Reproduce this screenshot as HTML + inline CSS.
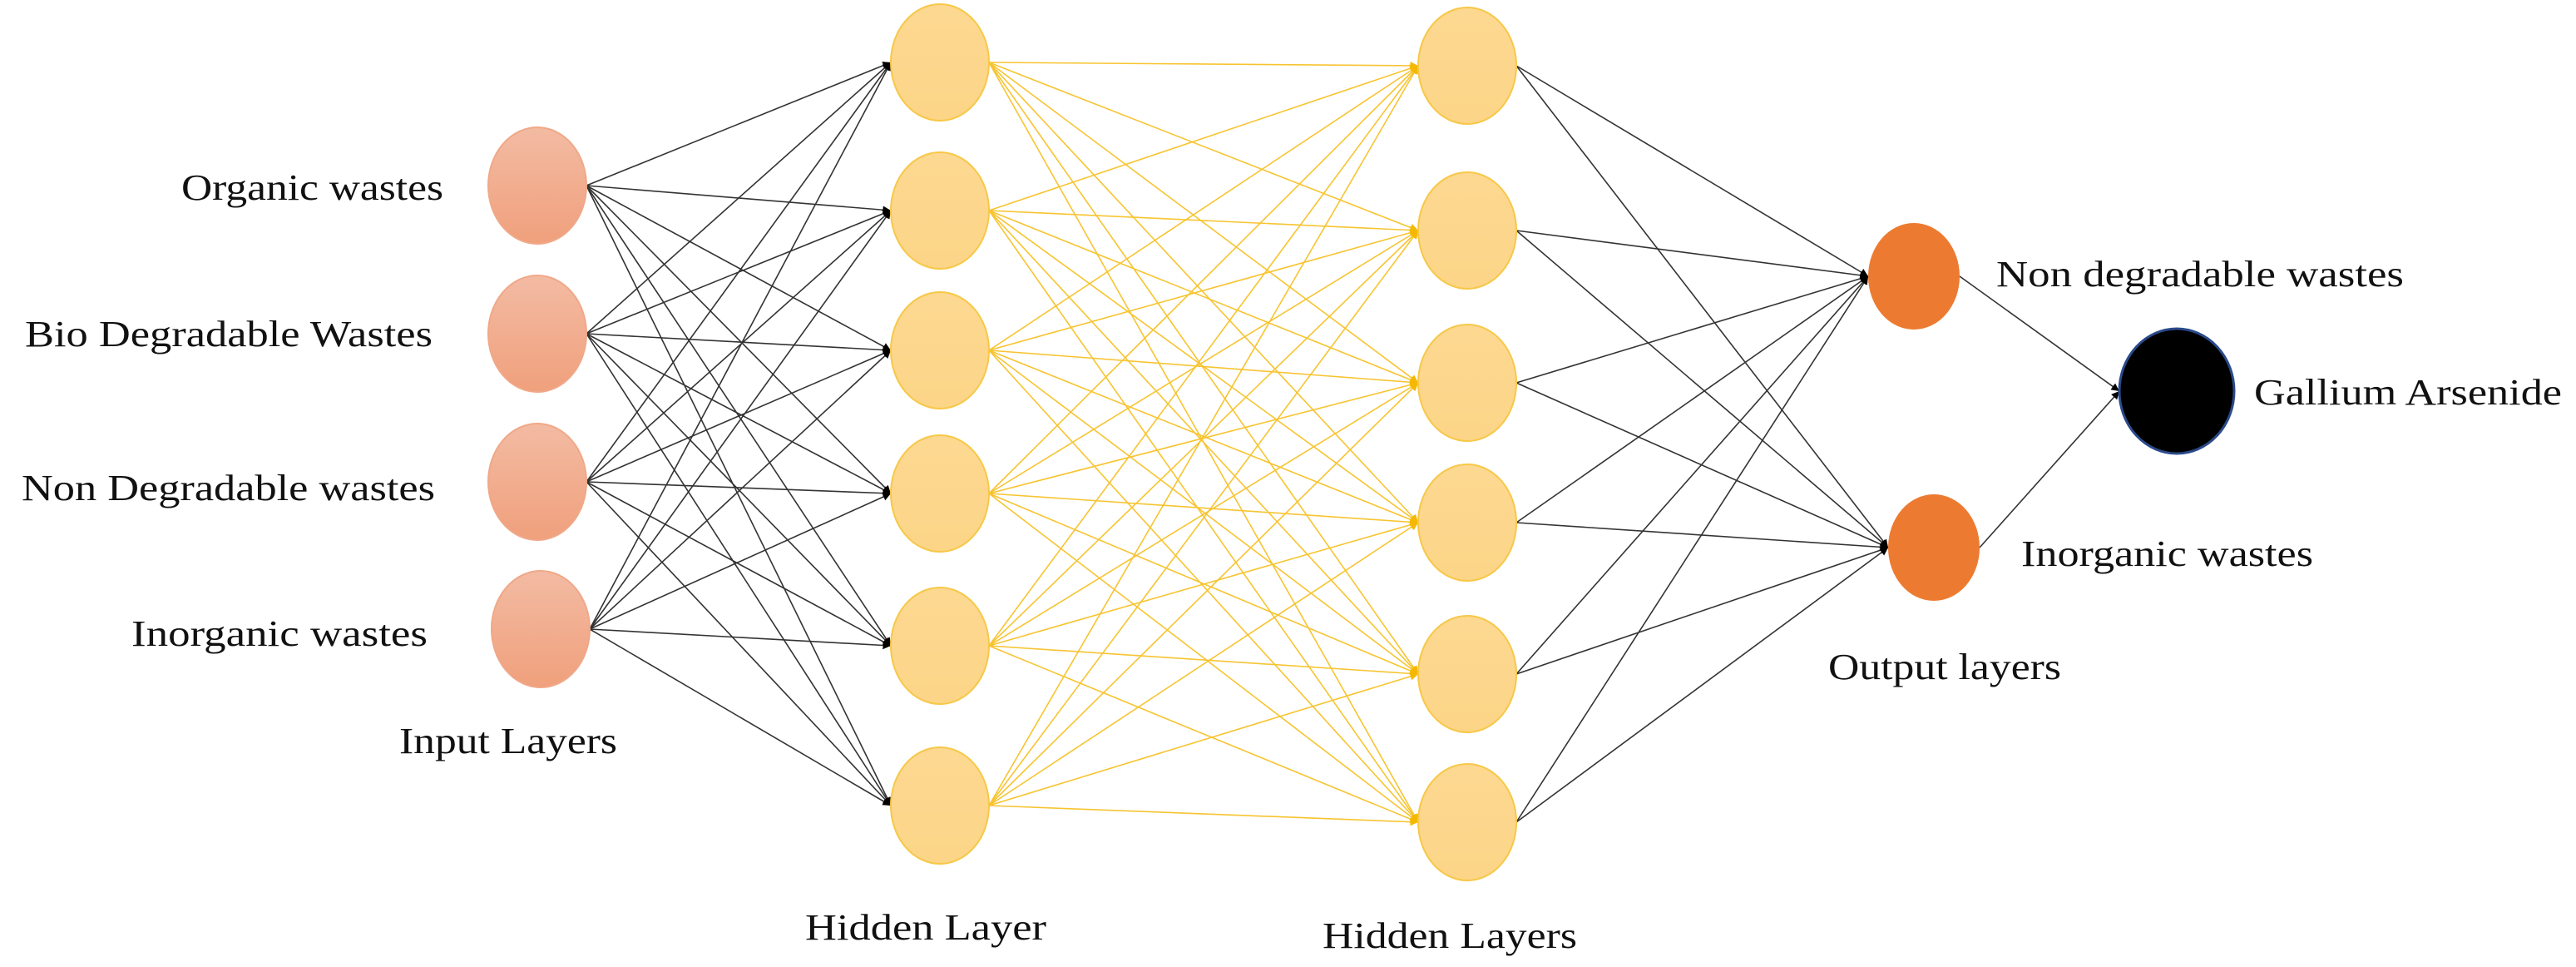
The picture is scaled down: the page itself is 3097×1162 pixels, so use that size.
<!DOCTYPE html>
<html><head><meta charset="utf-8"><style>
html,body{margin:0;padding:0;background:#fff;}
svg{display:block;}
text{font-family:"Liberation Serif",serif;font-size:44px;fill:#111;}
</style></head><body>
<svg width="3097" height="1162" viewBox="0 0 3097 1162" xmlns="http://www.w3.org/2000/svg">
<defs>
<marker id="ab" viewBox="0 0 10 10" refX="10" refY="5" markerWidth="6" markerHeight="6" orient="auto"><path d="M0,0L10,5L0,10z" fill="#000"/></marker>
<marker id="ay" viewBox="0 0 10 10" refX="10" refY="5" markerWidth="6" markerHeight="6" orient="auto"><path d="M0,0L10,5L0,10z" fill="#f5b800"/></marker>
<linearGradient id="gi" x1="0" y1="0" x2="0" y2="1"><stop offset="0" stop-color="#f3bba3"/><stop offset="1" stop-color="#f0a07c"/></linearGradient>
<linearGradient id="gh" x1="0" y1="0" x2="0" y2="1"><stop offset="0" stop-color="#fdd891"/><stop offset="1" stop-color="#fcd587"/></linearGradient>
</defs>
<g stroke="#333" stroke-width="1.6" marker-end="url(#ab)">
<line x1="705" y1="223" x2="1071" y2="75"/><line x1="705" y1="223" x2="1071" y2="253"/><line x1="705" y1="223" x2="1071" y2="421"/><line x1="705" y1="223" x2="1071" y2="593"/><line x1="705" y1="223" x2="1071" y2="776"/><line x1="705" y1="223" x2="1071" y2="968"/>
<line x1="705" y1="401" x2="1071" y2="75"/><line x1="705" y1="401" x2="1071" y2="253"/><line x1="705" y1="401" x2="1071" y2="421"/><line x1="705" y1="401" x2="1071" y2="593"/><line x1="705" y1="401" x2="1071" y2="776"/><line x1="705" y1="401" x2="1071" y2="968"/>
<line x1="705" y1="579" x2="1071" y2="75"/><line x1="705" y1="579" x2="1071" y2="253"/><line x1="705" y1="579" x2="1071" y2="421"/><line x1="705" y1="579" x2="1071" y2="593"/><line x1="705" y1="579" x2="1071" y2="776"/><line x1="705" y1="579" x2="1071" y2="968"/>
<line x1="709" y1="756" x2="1071" y2="75"/><line x1="709" y1="756" x2="1071" y2="253"/><line x1="709" y1="756" x2="1071" y2="421"/><line x1="709" y1="756" x2="1071" y2="593"/><line x1="709" y1="756" x2="1071" y2="776"/><line x1="709" y1="756" x2="1071" y2="968"/>
</g>
<g stroke="#f7c431" stroke-width="1.6" marker-end="url(#ay)">
<line x1="1189" y1="75" x2="1705" y2="79"/><line x1="1189" y1="75" x2="1705" y2="277"/><line x1="1189" y1="75" x2="1705" y2="460"/><line x1="1189" y1="75" x2="1705" y2="628"/><line x1="1189" y1="75" x2="1705" y2="810"/><line x1="1189" y1="75" x2="1705" y2="988"/>
<line x1="1189" y1="253" x2="1705" y2="79"/><line x1="1189" y1="253" x2="1705" y2="277"/><line x1="1189" y1="253" x2="1705" y2="460"/><line x1="1189" y1="253" x2="1705" y2="628"/><line x1="1189" y1="253" x2="1705" y2="810"/><line x1="1189" y1="253" x2="1705" y2="988"/>
<line x1="1189" y1="421" x2="1705" y2="79"/><line x1="1189" y1="421" x2="1705" y2="277"/><line x1="1189" y1="421" x2="1705" y2="460"/><line x1="1189" y1="421" x2="1705" y2="628"/><line x1="1189" y1="421" x2="1705" y2="810"/><line x1="1189" y1="421" x2="1705" y2="988"/>
<line x1="1189" y1="593" x2="1705" y2="79"/><line x1="1189" y1="593" x2="1705" y2="277"/><line x1="1189" y1="593" x2="1705" y2="460"/><line x1="1189" y1="593" x2="1705" y2="628"/><line x1="1189" y1="593" x2="1705" y2="810"/><line x1="1189" y1="593" x2="1705" y2="988"/>
<line x1="1189" y1="776" x2="1705" y2="79"/><line x1="1189" y1="776" x2="1705" y2="277"/><line x1="1189" y1="776" x2="1705" y2="460"/><line x1="1189" y1="776" x2="1705" y2="628"/><line x1="1189" y1="776" x2="1705" y2="810"/><line x1="1189" y1="776" x2="1705" y2="988"/>
<line x1="1189" y1="968" x2="1705" y2="79"/><line x1="1189" y1="968" x2="1705" y2="277"/><line x1="1189" y1="968" x2="1705" y2="460"/><line x1="1189" y1="968" x2="1705" y2="628"/><line x1="1189" y1="968" x2="1705" y2="810"/><line x1="1189" y1="968" x2="1705" y2="988"/>
</g>
<g stroke="#333" stroke-width="1.6" marker-end="url(#ab)">
<line x1="1823" y1="79" x2="2246" y2="332"/><line x1="1823" y1="79" x2="2270" y2="658"/>
<line x1="1823" y1="277" x2="2246" y2="332"/><line x1="1823" y1="277" x2="2270" y2="658"/>
<line x1="1823" y1="460" x2="2246" y2="332"/><line x1="1823" y1="460" x2="2270" y2="658"/>
<line x1="1823" y1="628" x2="2246" y2="332"/><line x1="1823" y1="628" x2="2270" y2="658"/>
<line x1="1823" y1="810" x2="2246" y2="332"/><line x1="1823" y1="810" x2="2270" y2="658"/>
<line x1="1823" y1="988" x2="2246" y2="332"/><line x1="1823" y1="988" x2="2270" y2="658"/>
<line x1="2356" y1="332" x2="2548" y2="470"/><line x1="2380" y1="658" x2="2548" y2="470"/>
</g>
<g fill="url(#gi)" stroke="#f0a888" stroke-width="2">
<ellipse cx="646" cy="223" rx="59" ry="70"/><ellipse cx="646" cy="401" rx="59" ry="70"/><ellipse cx="646" cy="579" rx="59" ry="70"/><ellipse cx="650" cy="756" rx="59" ry="70"/>
</g>
<g fill="url(#gh)" stroke="#f7c848" stroke-width="2">
<ellipse cx="1130" cy="75" rx="59" ry="70"/><ellipse cx="1130" cy="253" rx="59" ry="70"/><ellipse cx="1130" cy="421" rx="59" ry="70"/><ellipse cx="1130" cy="593" rx="59" ry="70"/><ellipse cx="1130" cy="776" rx="59" ry="70"/><ellipse cx="1130" cy="968" rx="59" ry="70"/>
<ellipse cx="1764" cy="79" rx="59" ry="70"/><ellipse cx="1764" cy="277" rx="59" ry="70"/><ellipse cx="1764" cy="460" rx="59" ry="70"/><ellipse cx="1764" cy="628" rx="59" ry="70"/><ellipse cx="1764" cy="810" rx="59" ry="70"/><ellipse cx="1764" cy="988" rx="59" ry="70"/>
</g>
<ellipse cx="2301" cy="332" rx="55" ry="64" fill="#ec7b31"/>
<ellipse cx="2325" cy="658" rx="55" ry="64" fill="#ec7b31"/>
<ellipse cx="2617" cy="470" rx="69" ry="75" fill="#000" stroke="#2a4a8a" stroke-width="3"/>
<text x="218" y="240" textLength="315" lengthAdjust="spacingAndGlyphs">Organic wastes</text>
<text x="30" y="416" textLength="490" lengthAdjust="spacingAndGlyphs">Bio Degradable Wastes</text>
<text x="26" y="601" textLength="497" lengthAdjust="spacingAndGlyphs">Non Degradable wastes</text>
<text x="158" y="776" textLength="356" lengthAdjust="spacingAndGlyphs">Inorganic wastes</text>
<text x="480" y="905" textLength="262" lengthAdjust="spacingAndGlyphs">Input Layers</text>
<text x="968" y="1129" textLength="290" lengthAdjust="spacingAndGlyphs">Hidden Layer</text>
<text x="1590" y="1139" textLength="306" lengthAdjust="spacingAndGlyphs">Hidden Layers</text>
<text x="2198" y="816" textLength="280" lengthAdjust="spacingAndGlyphs">Output layers</text>
<text x="2400" y="344" textLength="490" lengthAdjust="spacingAndGlyphs">Non degradable wastes</text>
<text x="2430" y="680" textLength="351" lengthAdjust="spacingAndGlyphs">Inorganic wastes</text>
<text x="2710" y="486" textLength="370" lengthAdjust="spacingAndGlyphs">Gallium Arsenide</text>
</svg>
</body></html>
